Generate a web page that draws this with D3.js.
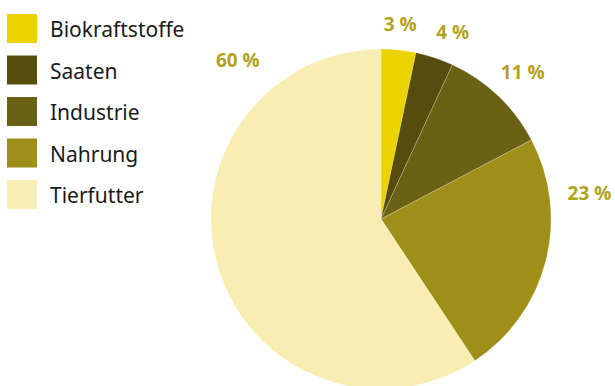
<!DOCTYPE html>
<html>
<head>
<meta charset="utf-8">
<script src="https://cdn.jsdelivr.net/npm/d3@7"></script>
<style>
  body { margin: 0; background: #fff; }
  svg { display: block; }
</style>
</head>
<body>
<div id="chart-area"></div>
<script>
// DATA
const categories = ['Biokraftstoffe', 'Saaten', 'Industrie', 'Nahrung', 'Tierfutter']
const shares = [3.3, 3.6, 10.4, 23.4, 59.3]
const shareLabels = ['3 %', '4 %', '11 %', '23 %', '60 %']
const colors = ['#ecd300', '#554c0d', '#6a6115', '#9d8f18', '#f8eeb3']

// LABEL PLACEMENT (angle in degrees, radius in px)
const labelAngles = [5.6, 21, 44, 83, 318]
const labelRadii = [196, 200, 204, 210, 214]

// SIZE
const width = 615
const height = 386
const cx = 381
const cy = 219
const radius = 170

const svg = d3.select('#chart-area')
              .append('svg')
              .attr('width', width)
              .attr('height', height)

const color = d3.scaleOrdinal()
                .domain(categories)
                .range(colors)

// PIE
const pie = d3.pie()
              .sort(null)
              .value(d => d.value)

const arc = d3.arc()
              .innerRadius(0)
              .outerRadius(radius)

const data = categories.map((c, i) => ({ name: c, value: shares[i], label: shareLabels[i] }))

const g = svg.append('g')
             .attr('transform', 'translate(' + cx + ',' + cy + ')')

g.selectAll('path')
 .data(pie(data))
 .enter()
 .append('path')
 .attr('d', arc)
 .attr('fill', d => color(d.data.name))
 .attr('stroke', 'rgba(255,255,255,0.35)')
 .attr('stroke-width', 0.6)

// PERCENT LABELS
g.selectAll('text.pct')
 .data(data)
 .enter()
 .append('text')
 .attr('class', 'pct')
 .attr('x', (d, i) => labelRadii[i] * Math.sin(labelAngles[i] * Math.PI / 180))
 .attr('y', (d, i) => -labelRadii[i] * Math.cos(labelAngles[i] * Math.PI / 180))
 .attr('dy', '0.35em')
 .attr('text-anchor', 'middle')
 .attr('font-family', 'Open Sans, sans-serif')
 .attr('font-weight', 700)
 .attr('font-size', '19px')
 .attr('fill', '#b3a31c')
 .text(d => d.label)

// LEGEND
const legend = svg.append('g')
                  .attr('class', 'legend')
                  .attr('transform', 'translate(7,14)')

const item = legend.selectAll('g')
                   .data(categories)
                   .enter()
                   .append('g')
                   .attr('transform', (d, i) => 'translate(0,' + i * 41.5 + ')')

item.append('rect')
    .attr('width', 30)
    .attr('height', 29)
    .attr('fill', d => color(d))

item.append('text')
    .attr('x', 43)
    .attr('y', 23)
    .attr('font-family', 'Noto Sans, sans-serif')
    .attr('font-size', '21px')
    .attr('fill', '#1a1a1a')
    .text(d => d)
</script>
</body>
</html>
